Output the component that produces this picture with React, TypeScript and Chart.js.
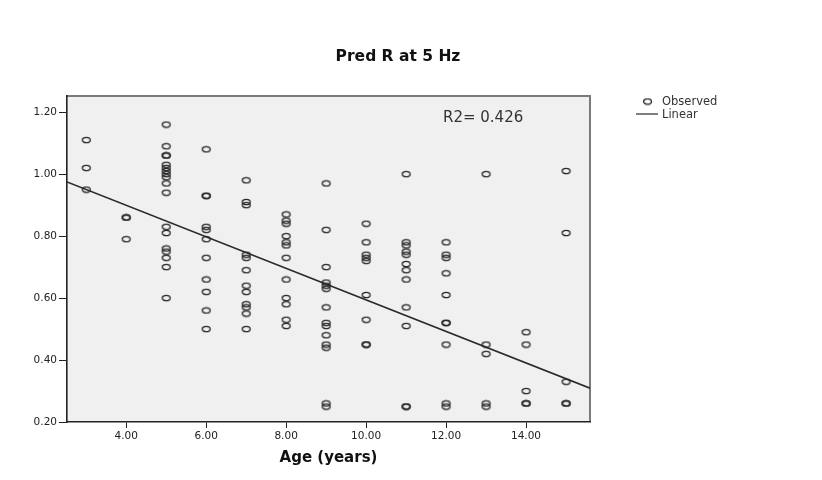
import React, { useEffect, useRef } from "react";
import { Chart, registerables } from "chart.js";

Chart.register(...registerables);

// ---- Text ----
const TITLE = "Pred R at 5 Hz";
const X_TITLE = "Age (years)";
const R2_LABEL = "R2= 0.426";
const OBSERVED_LABEL = "Observed";
const LINEAR_LABEL = "Linear";

// ---- Data (Pred R at 5 Hz by age in years) ----
const ages = [3, 4, 5, 6, 7, 8, 9, 10, 11, 12, 13, 14, 15];
const predR3 = [1.11, 1.02, 0.95];
const predR4 = [0.86, 0.86, 0.79];
const predR5 = [1.16, 1.09, 1.06, 1.06, 1.03, 1.02, 1.01, 1.0, 0.99, 0.97, 0.94, 0.83, 0.81, 0.76, 0.75, 0.73, 0.7, 0.6];
const predR6 = [1.08, 0.93, 0.93, 0.83, 0.82, 0.79, 0.73, 0.66, 0.62, 0.56, 0.5];
const predR7 = [0.98, 0.91, 0.9, 0.74, 0.73, 0.69, 0.64, 0.62, 0.58, 0.57, 0.55, 0.5];
const predR8 = [0.87, 0.85, 0.84, 0.8, 0.78, 0.77, 0.73, 0.66, 0.6, 0.58, 0.53, 0.51];
const predR9 = [0.97, 0.82, 0.7, 0.65, 0.64, 0.63, 0.57, 0.52, 0.51, 0.48, 0.45, 0.44, 0.26, 0.25];
const predR10 = [0.84, 0.78, 0.74, 0.73, 0.72, 0.61, 0.53, 0.45, 0.45];
const predR11 = [1.0, 0.78, 0.77, 0.75, 0.74, 0.71, 0.69, 0.66, 0.57, 0.51, 0.25, 0.25];
const predR12 = [0.78, 0.74, 0.73, 0.68, 0.61, 0.52, 0.52, 0.45, 0.26, 0.25];
const predR13 = [1.0, 0.45, 0.42, 0.26, 0.25];
const predR14 = [0.49, 0.45, 0.3, 0.26, 0.26];
const predR15 = [1.01, 0.81, 0.33, 0.26, 0.26];
const predRByAge = [predR3, predR4, predR5, predR6, predR7, predR8, predR9, predR10, predR11, predR12, predR13, predR14, predR15];

// ---- Linear fit ----
const FIT_INTERCEPT = 1.103;
const FIT_SLOPE = -0.0509;

// ---- Axes ----
const xTicks = [4, 6, 8, 10, 12, 14];
const yTicks = [0.2, 0.4, 0.6, 0.8, 1.0, 1.2];
const X_MIN = 2.52;
const X_MAX = 15.6;
const Y_MIN = 0.2;
const Y_MAX = 1.252;

const FONT = "'DejaVu Sans', 'Liberation Sans', Arial, sans-serif";

function makeEllipse(): HTMLCanvasElement {
  const c = document.createElement("canvas");
  c.width = 11;
  c.height = 8;
  const g = c.getContext("2d");
  if (g) {
    g.strokeStyle = "#262626";
    g.lineWidth = 1.3;
    g.beginPath();
    g.ellipse(5.5, 4, 4, 2.7, 0, 0, Math.PI * 2);
    g.stroke();
  }
  return c;
}

export default function App() {
  const ref = useRef<HTMLCanvasElement | null>(null);

  useEffect(() => {
    const canvas = ref.current;
    if (!canvas) return;
    const marker = makeEllipse();

    const observed: { x: number; y: number }[] = [];
    ages.forEach((a, i) => predRByAge[i].forEach((v) => observed.push({ x: a, y: v })));
    const fitLine = [
      { x: X_MIN, y: FIT_INTERCEPT + FIT_SLOPE * X_MIN },
      { x: X_MAX, y: FIT_INTERCEPT + FIT_SLOPE * X_MAX },
    ];

    const decor = {
      id: "decor",
      beforeDraw(chart: any) {
        const { ctx, chartArea: a } = chart;
        ctx.save();
        ctx.fillStyle = "#f0f0f0";
        ctx.fillRect(a.left, a.top, a.right - a.left, a.bottom - a.top);
        ctx.strokeStyle = "#7a7a7a";
        ctx.lineWidth = 2;
        ctx.beginPath();
        ctx.moveTo(a.left, a.top);
        ctx.lineTo(a.right, a.top);
        ctx.lineTo(a.right, a.bottom);
        ctx.stroke();
        ctx.restore();
      },
      afterDraw(chart: any) {
        const { ctx, chartArea: a } = chart;
        const ds = chart.data.datasets;
        ctx.save();
        // Title
        ctx.fillStyle = "#111";
        ctx.font = `bold 15.5px ${FONT}`;
        ctx.textAlign = "center";
        ctx.textBaseline = "alphabetic";
        ctx.fillText(TITLE, 398, 61);
        // R2 label inside plot
        ctx.fillStyle = "#333";
        ctx.font = `15px ${FONT}`;
        ctx.textAlign = "left";
        ctx.fillText(R2_LABEL, a.left + 376, 122);
        // Legend
        const lx = a.right + 46;
        ctx.drawImage(marker, lx + 11.5 - 5.5, 101.5 - 4);
        ctx.strokeStyle = "#555";
        ctx.lineWidth = 1.5;
        ctx.beginPath();
        ctx.moveTo(lx, 114);
        ctx.lineTo(lx + 22, 114);
        ctx.stroke();
        ctx.fillStyle = "#333";
        ctx.font = `11.5px ${FONT}`;
        ctx.textBaseline = "middle";
        ctx.fillText(ds[0].label, lx + 26, 102.5);
        ctx.fillText(ds[1].label, lx + 26, 115);
        ctx.restore();
      },
    };

    const tickFont = { family: FONT, size: 10.5 };

    const chart = new Chart(canvas, {
      type: "scatter",
      data: {
        datasets: [
          {
            label: OBSERVED_LABEL,
            data: observed,
            pointStyle: marker as any,
            pointRadius: 4,
            borderColor: "#262626",
            backgroundColor: "transparent",
          },
          {
            type: "line",
            label: LINEAR_LABEL,
            data: fitLine,
            borderColor: "#2a2a2a",
            borderWidth: 1.6,
            pointRadius: 0,
            fill: false,
          } as any,
        ],
      },
      options: {
        animation: false,
        responsive: false,
        maintainAspectRatio: false,
        devicePixelRatio: 1,
        layout: { padding: { top: 96, right: 232, left: 0, bottom: 0 } },
        plugins: { legend: { display: false }, title: { display: false }, tooltip: { enabled: false } },
        scales: {
          x: {
            type: "linear",
            min: X_MIN,
            max: X_MAX,
            afterBuildTicks: (s: any) => { s.ticks = xTicks.map((v) => ({ value: v })); },
            afterFit: (s: any) => { s.height = 58; },
            ticks: { callback: (v: any) => Number(v).toFixed(2), font: tickFont, color: "#222", padding: 2, maxRotation: 0, autoSkip: false },
            grid: { display: true, drawOnChartArea: false, drawTicks: true, tickLength: 6, color: "#222", lineWidth: 1 },
            border: { display: true, color: "#222", width: 1.6 },
            title: { display: true, text: X_TITLE, color: "#111", font: { family: FONT, size: 15, weight: "bold" }, padding: { top: 0, bottom: 13 } },
          },
          y: {
            type: "linear",
            min: Y_MIN,
            max: Y_MAX,
            afterBuildTicks: (s: any) => { s.ticks = yTicks.map((v) => ({ value: v })); },
            afterFit: (s: any) => { s.width = 67; },
            ticks: { callback: (v: any) => Number(v).toFixed(2), font: tickFont, color: "#222", padding: 2, autoSkip: false },
            grid: { display: true, drawOnChartArea: false, drawTicks: true, tickLength: 8, color: "#222", lineWidth: 1 },
            border: { display: true, color: "#222", width: 1.6 },
          },
        },
      },
      plugins: [decor],
    } as any);

    return () => chart.destroy();
  }, []);

  return (
    <div style={{ position: "relative", margin: -8, width: 822, height: 480, overflow: "hidden", background: "#fff" }}>
      <canvas ref={ref} width={822} height={480} style={{ display: "block", width: 822, height: 480 }} />
    </div>
  );
}
